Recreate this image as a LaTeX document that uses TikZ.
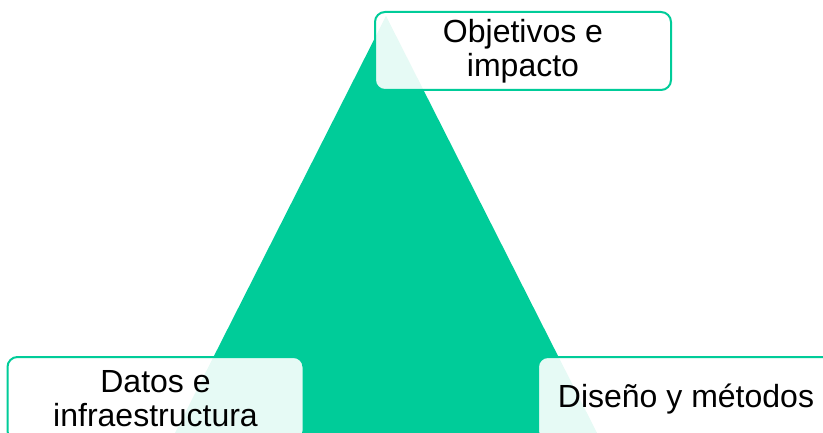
\documentclass[tikz,border=0pt]{standalone}
\usepackage{fontspec}
\setmainfont{Liberation Sans}
\definecolor{mint}{RGB}{0,204,153}
\begin{document}
\begin{tikzpicture}[x=1pt, y=-1pt]
\tikzset{ inner sep=0pt, outer sep=0pt,
  card/.style={draw=mint, line width=2pt, rounded corners=10pt, fill=white, fill opacity=0.9, text opacity=1, align=center, minimum width=296pt, font=\fontsize{32}{34}\selectfont},
}
\useasboundingbox (0,0) rectangle (823,433);

%\draw [lightgray, dashed](0,0) grid[step=50] (823,433);

\coordinate (A) at (386,16);
\coordinate (B) at (175,433);
\coordinate (C) at (597,433);

\fill [mint] (A) -- (B) -- (C) -- cycle;

\node [card, minimum height=78pt] (O) at (523,51) {Objetivos e\\impacto};
\node [card, minimum height=84pt] (D) at (155.5,399) {Datos e\\infraestructura};
\node [card, minimum height=84pt] (M) at (686,399) {Diseño y métodos};

\end{tikzpicture}
\end{document}
